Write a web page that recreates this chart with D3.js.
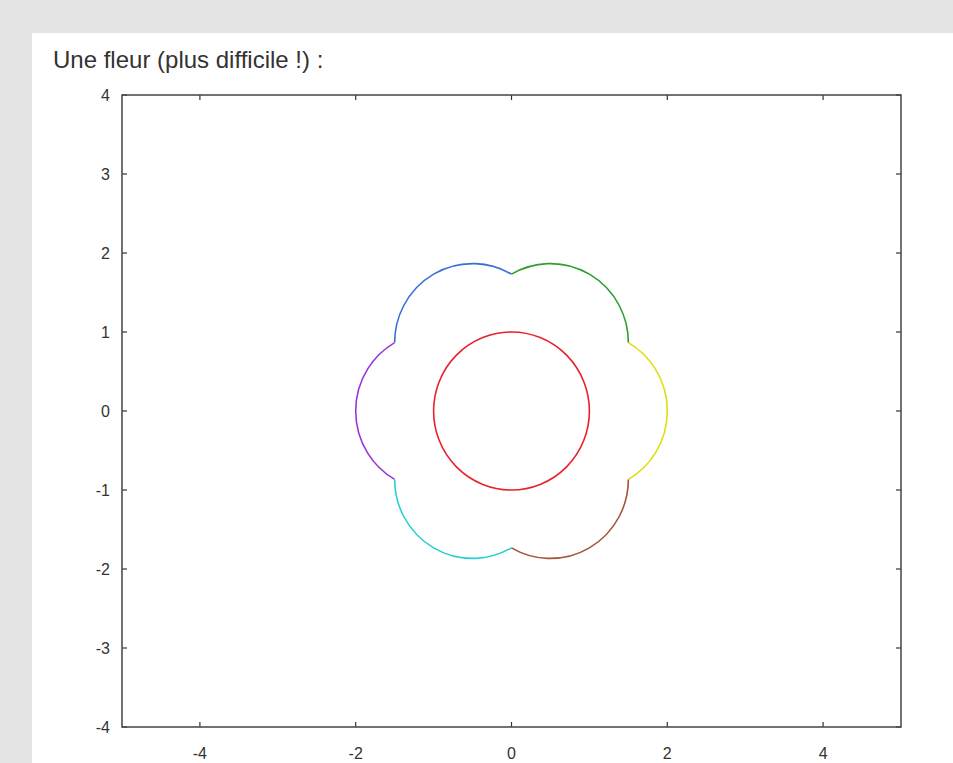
<!DOCTYPE html>
<html>
<head>
<meta charset="utf-8">
<script src="https://cdn.jsdelivr.net/npm/d3@7"></script>
<style>
  body { margin: 0; background: #e5e5e5; }
  svg { display: block; }
  text { font-family: "Liberation Sans", Arial, sans-serif; fill: #333; }
</style>
</head>
<body>
<div id="container"></div>
<script>
// data
var title = "Une fleur (plus difficile !) :";
var xTicks = [-4, -2, 0, 2, 4],
    yTicks = [-4, -3, -2, -1, 0, 1, 2, 3, 4];

// inner circle
var coreCx = 0, coreCy = 0, coreR = 1, coreColor = "#e8212b";

// petals: unit circles around the core, each drawn over 120 degrees
var petalCx = [1, 0.5, -0.5, -1, -0.5, 0.5],
    petalCy = [0, 0.866, 0.866, 0, -0.866, -0.866],
    petalR = [1, 1, 1, 1, 1, 1],
    petalFrom = [-60, 0, 60, 120, 180, 240],
    petalTo = [60, 120, 180, 240, 300, 360],
    petalColors = ["#dede10", "#2e9e2e", "#3a6fd8", "#9a36d6", "#2ccfcf", "#a4553a"];

// layout (plotTop etc. : "top" is taken by window.top)
var width = 953, height = 763,
    plotLeft = 122, plotRight = 901, plotTop = 95, plotBottom = 727;

var svg = d3.select("#container")
    .append("svg")
    .attr("width", width)
    .attr("height", height);

// white page
svg.append("rect")
    .attr("x", 32).attr("y", 33)
    .attr("width", width - 32).attr("height", height - 33)
    .attr("fill", "#fff");

svg.append("text")
    .attr("x", 53).attr("y", 68)
    .style("font-size", "24px")
    .text(title);

var x = d3.scaleLinear().domain([-5, 5]).range([plotLeft, plotRight]);
var y = d3.scaleLinear().domain([-4, 4]).range([plotBottom, plotTop]);

// ticks on all four sides, pointing inward
var tk = 5;
var g = svg.append("g");

g.selectAll(".xb").data(xTicks).enter().append("line")
    .attr("x1", function (d) { return x(d); }).attr("x2", function (d) { return x(d); })
    .attr("y1", plotBottom).attr("y2", plotBottom - tk)
    .attr("stroke", "#333").attr("stroke-width", 1.2);
g.selectAll(".xt").data(xTicks).enter().append("line")
    .attr("x1", function (d) { return x(d); }).attr("x2", function (d) { return x(d); })
    .attr("y1", plotTop).attr("y2", plotTop + tk)
    .attr("stroke", "#333").attr("stroke-width", 1.2);
g.selectAll(".yl").data(yTicks).enter().append("line")
    .attr("y1", function (d) { return y(d); }).attr("y2", function (d) { return y(d); })
    .attr("x1", plotLeft).attr("x2", plotLeft + tk)
    .attr("stroke", "#333").attr("stroke-width", 1.2);
g.selectAll(".yr").data(yTicks).enter().append("line")
    .attr("y1", function (d) { return y(d); }).attr("y2", function (d) { return y(d); })
    .attr("x1", plotRight).attr("x2", plotRight - tk)
    .attr("stroke", "#333").attr("stroke-width", 1.2);

g.selectAll(".xlab").data(xTicks).enter().append("text")
    .attr("x", function (d) { return x(d); })
    .attr("y", 759)
    .attr("text-anchor", "middle")
    .style("font-size", "16px")
    .text(function (d) { return d; });

g.selectAll(".ylab").data(yTicks).enter().append("text")
    .attr("x", 110)
    .attr("y", function (d) { return y(d); })
    .attr("dy", "0.35em")
    .attr("text-anchor", "end")
    .style("font-size", "16px")
    .text(function (d) { return d; });

// frame
svg.append("rect")
    .attr("x", plotLeft).attr("y", plotTop)
    .attr("width", plotRight - plotLeft).attr("height", plotBottom - plotTop)
    .attr("fill", "none")
    .attr("stroke", "#444")
    .attr("stroke-width", 1.5);

// flower
var plot = svg.append("g");

plot.append("ellipse")
    .attr("cx", x(coreCx)).attr("cy", y(coreCy))
    .attr("rx", x(coreR) - x(0)).attr("ry", y(0) - y(coreR))
    .attr("fill", "none")
    .attr("stroke", coreColor)
    .attr("stroke-width", 1.6);

function petalPath(i) {
    var a0 = petalFrom[i] * Math.PI / 180,
        a1 = petalTo[i] * Math.PI / 180,
        r = petalR[i],
        rx = x(r) - x(0),
        ry = y(0) - y(r);
    return "M" + x(petalCx[i] + r * Math.cos(a0)) + "," + y(petalCy[i] + r * Math.sin(a0)) +
        "A" + rx + "," + ry + " 0 0 0 " +
        x(petalCx[i] + r * Math.cos(a1)) + "," + y(petalCy[i] + r * Math.sin(a1));
}

plot.selectAll(".petal")
    .data(d3.range(petalCx.length))
    .enter()
    .append("path")
    .attr("class", "petal")
    .attr("d", petalPath)
    .attr("fill", "none")
    .attr("stroke", function (i) { return petalColors[i]; })
    .attr("stroke-width", 1.6);
</script>
</body>
</html>
